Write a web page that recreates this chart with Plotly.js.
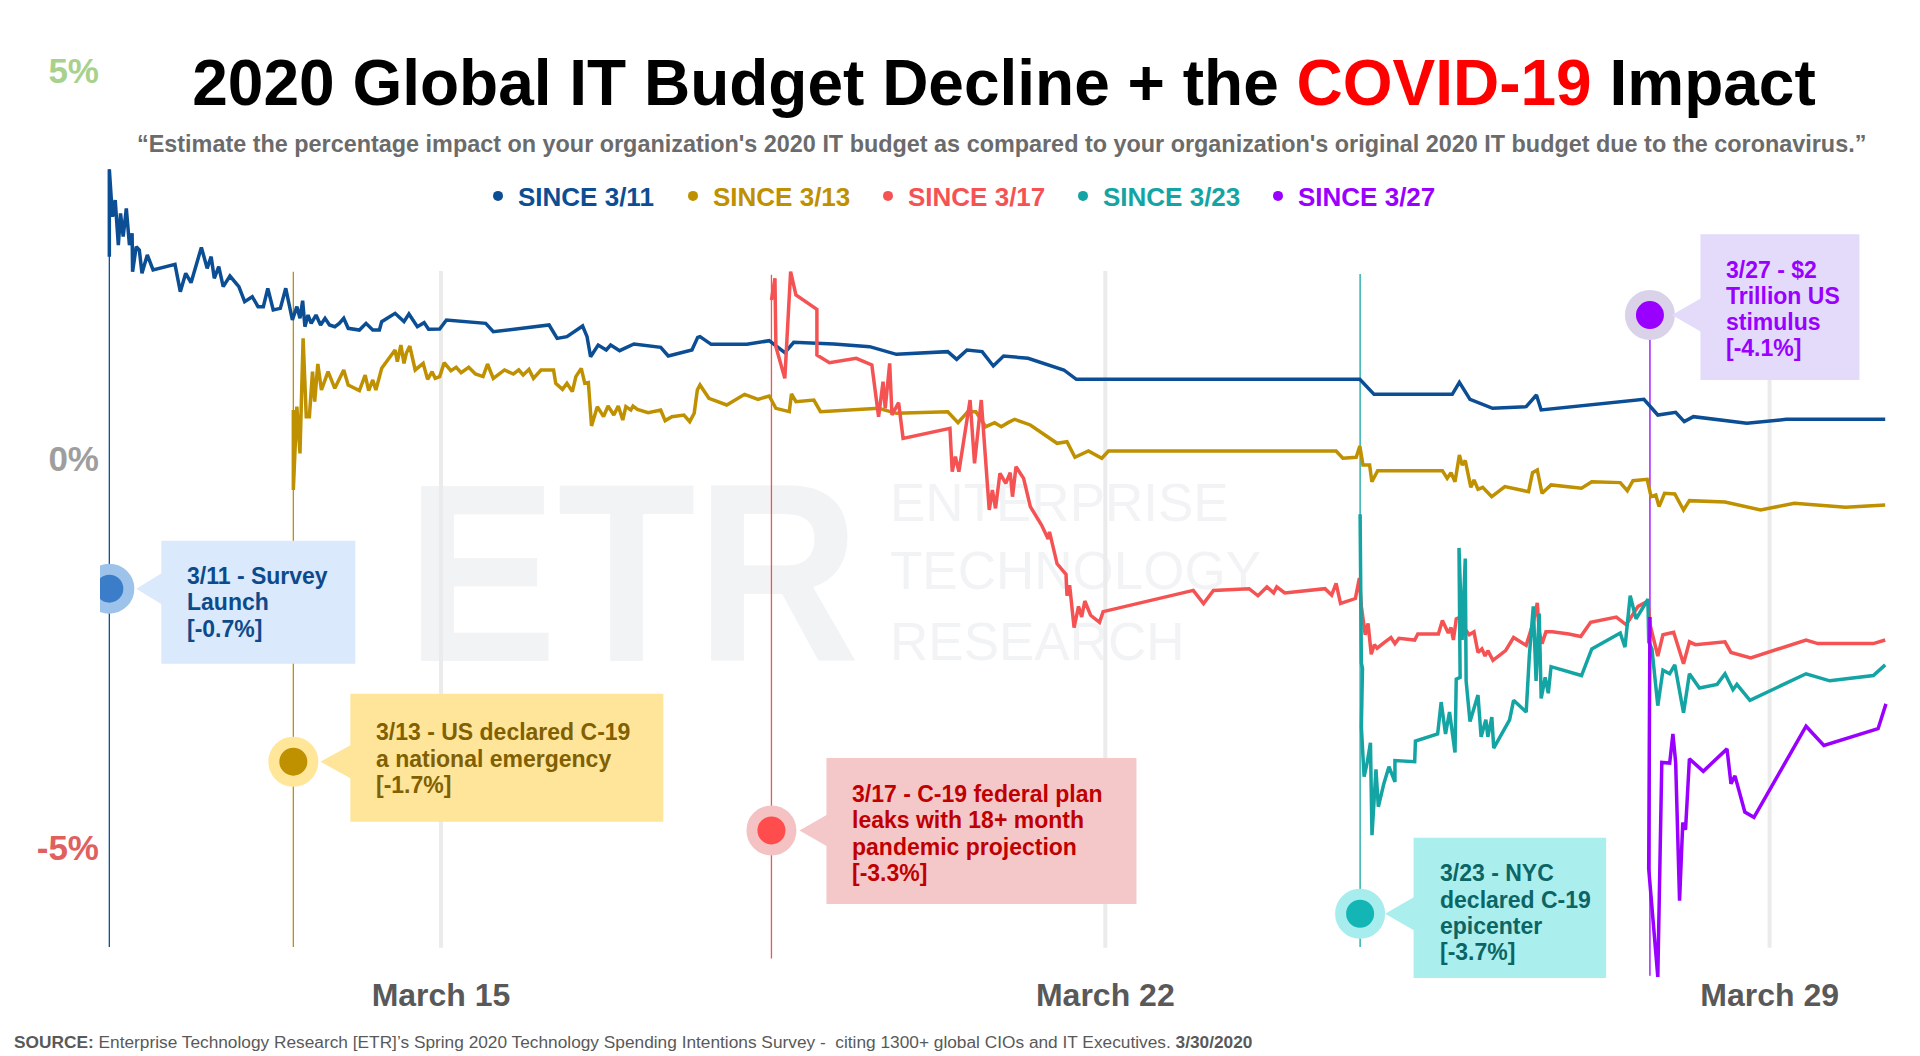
<!DOCTYPE html>
<html><head><meta charset="utf-8">
<script src="https://cdn.plot.ly/plotly-3.0.1.min.js"></script>
<style>
html,body{margin:0;padding:0;background:#fff;}
#wrap{position:relative;width:1920px;height:1056px;overflow:hidden;background:#fff;}
#wm{position:absolute;left:0;top:0;width:1920px;height:1056px;z-index:0;font-family:'Liberation Sans',Arial,sans-serif;color:#f2f3f5;}
#wm div{position:absolute;white-space:nowrap;line-height:1;}
#chart{position:absolute;left:0;top:0;width:1920px;height:1056px;z-index:1;}
</style></head><body>
<div id="wrap">
 <div id="wm">
  <div style="left:406px;top:445px;font-size:255px;font-weight:bold;transform:scaleX(0.89);transform-origin:left top;">ETR</div>
  <div style="left:890px;top:476px;font-size:53px;">ENTERPRISE</div>
  <div style="left:890px;top:544px;font-size:53px;">TECHNOLOGY</div>
  <div style="left:890px;top:615px;font-size:53px;">RESEARCH</div>
 </div>
 <div id="chart"></div>
</div>
<script>
// ---------------- DATA ----------------
const seriesNames = ['SINCE 3/11','SINCE 3/13','SINCE 3/17','SINCE 3/23','SINCE 3/27'];

// x = day of March 2020 (fractional), y = budget impact in %
const blueX = [11.505,11.505,11.538,11.567,11.600,11.623,11.651,11.684,11.717,11.745,11.750,11.788,11.821,11.849,11.905,11.966,12.197,12.253,12.310,12.366,12.475,12.536,12.578,12.611,12.658,12.705,12.776,12.870,12.931,13.011,13.072,13.128,13.175,13.232,13.307,13.364,13.434,13.481,13.514,13.542,13.566,13.599,13.632,13.683,13.731,13.778,13.825,13.881,13.928,13.975,14.022,14.140,14.210,14.281,14.351,14.375,14.516,14.610,14.662,14.751,14.822,14.869,14.986,15.057,15.471,15.551,16.139,16.224,16.327,16.492,16.539,16.576,16.656,16.741,16.788,16.882,17.033,17.315,17.395,17.644,17.705,17.729,17.847,18.223,18.458,18.623,18.717,19.140,19.517,19.799,20.340,20.434,20.542,20.702,20.820,20.928,21.186,21.563,21.695,24.682,24.832,25.656,25.731,25.843,26.081,26.435,26.543,26.593,27.676,27.822,28.010,28.101,28.197,28.760,29.176,30.218];
const blueY = [2.604,3.728,3.119,3.333,2.754,3.162,2.862,3.226,2.754,2.904,2.411,2.733,2.690,2.390,2.626,2.433,2.506,2.154,2.390,2.270,2.724,2.454,2.604,2.325,2.475,2.218,2.355,2.218,2.025,2.089,1.961,1.961,2.197,1.918,1.939,2.197,1.789,1.961,1.811,2.038,1.703,1.853,1.746,1.853,1.725,1.811,1.725,1.703,1.746,1.811,1.682,1.660,1.746,1.660,1.660,1.768,1.875,1.768,1.866,1.703,1.755,1.669,1.673,1.789,1.746,1.639,1.725,1.553,1.575,1.712,1.575,1.317,1.467,1.403,1.467,1.394,1.480,1.437,1.326,1.403,1.566,1.575,1.476,1.476,1.523,1.369,1.502,1.480,1.446,1.347,1.382,1.283,1.403,1.382,1.197,1.326,1.296,1.146,1.025,1.025,0.832,0.832,0.987,0.768,0.652,0.674,0.824,0.631,0.768,0.566,0.601,0.481,0.545,0.459,0.511,0.511];

const goldX = [13.444,13.444,13.481,13.514,13.547,13.580,13.613,13.646,13.669,13.702,13.740,13.810,13.881,13.975,14.022,14.140,14.201,14.238,14.281,14.314,14.375,14.516,14.540,14.577,14.610,14.634,14.671,14.728,14.812,14.859,14.906,14.939,14.986,15.033,15.104,15.160,15.212,15.292,15.363,15.443,15.490,15.551,15.669,15.763,15.819,15.866,15.927,15.974,16.054,16.186,16.209,16.280,16.327,16.384,16.421,16.478,16.515,16.553,16.586,16.647,16.713,16.760,16.821,16.868,16.915,16.948,17.000,17.023,17.070,17.183,17.315,17.362,17.433,17.560,17.621,17.668,17.701,17.729,17.823,18.011,18.199,18.341,18.458,18.529,18.670,18.693,18.740,18.929,18.999,19.611,19.799,20.340,20.448,20.551,20.636,20.740,20.834,20.904,20.975,21.045,21.210,21.492,21.596,21.680,21.822,21.963,22.033,24.432,24.503,24.644,24.682,24.715,24.785,24.809,24.870,25.105,25.552,25.602,25.643,25.685,25.731,25.760,25.793,25.852,25.885,25.927,25.977,26.072,26.210,26.460,26.502,26.552,26.602,26.697,27.018,27.126,27.426,27.501,27.560,27.710,27.751,27.801,27.835,27.893,28.001,28.093,28.155,28.530,28.905,29.260,29.801,30.218];
const goldY = [0.631,-0.399,0.674,0.073,1.553,0.545,0.545,1.124,0.738,1.223,0.888,1.124,0.910,1.146,0.953,0.880,1.081,0.880,1.017,0.888,1.167,1.403,1.253,1.467,1.231,1.360,1.454,1.146,1.231,1.025,1.124,1.038,1.060,1.240,1.137,1.180,1.111,1.180,1.094,1.060,1.223,1.038,1.146,1.094,1.146,1.081,1.154,1.038,1.146,1.146,0.974,0.897,0.974,0.867,1.060,1.167,0.974,0.983,0.425,0.674,0.545,0.682,0.566,0.682,0.502,0.674,0.631,0.682,0.639,0.596,0.631,0.494,0.545,0.566,0.481,0.588,0.888,0.953,0.781,0.695,0.832,0.768,0.811,0.652,0.609,0.837,0.738,0.759,0.609,0.652,0.588,0.609,0.468,0.609,0.609,0.416,0.468,0.416,0.468,0.511,0.438,0.202,0.223,0.022,0.103,0.009,0.103,0.103,0.009,0.022,0.167,-0.077,-0.077,-0.292,-0.150,-0.150,-0.150,-0.249,-0.176,-0.292,0.052,-0.077,-0.021,-0.364,-0.270,-0.390,-0.364,-0.485,-0.356,-0.420,-0.176,-0.141,-0.442,-0.334,-0.377,-0.292,-0.304,-0.407,-0.279,-0.262,-0.485,-0.463,-0.613,-0.442,-0.450,-0.656,-0.536,-0.553,-0.656,-0.570,-0.622,-0.592];

const redX = [18.482,18.505,18.519,18.529,18.623,18.684,18.740,18.961,18.961,19.093,19.375,19.540,19.611,19.658,19.681,19.728,19.752,19.822,19.869,20.363,20.387,20.420,20.457,20.575,20.622,20.693,20.777,20.810,20.843,20.890,20.951,20.998,21.022,21.059,21.139,21.210,21.328,21.398,21.412,21.492,21.586,21.596,21.624,21.671,21.718,21.751,21.784,21.845,21.939,21.977,22.927,23.035,23.139,23.515,23.609,23.703,23.774,23.807,23.891,24.315,24.385,24.432,24.479,24.635,24.677,24.698,24.739,24.769,24.802,24.835,24.864,24.948,25.010,25.052,25.094,25.260,25.293,25.510,25.552,25.614,25.643,25.668,25.698,25.739,25.781,25.835,25.885,25.927,25.968,26.002,26.031,26.085,26.218,26.302,26.435,26.510,26.552,26.572,26.602,26.643,26.710,26.885,27.010,27.114,27.385,27.489,27.614,27.718,27.739,27.822,27.876,27.989,28.051,28.093,28.155,28.218,28.530,28.593,28.801,29.384,29.509,30.093,30.218];
const redY = [2.046,2.261,2.325,1.446,1.038,2.411,2.111,1.926,1.339,1.240,1.296,1.210,0.545,0.995,0.652,1.231,0.566,0.725,0.266,0.395,-0.163,0.030,-0.163,0.759,-0.056,0.759,-0.656,-0.399,-0.635,-0.184,-0.313,-0.176,-0.485,-0.099,-0.249,-0.613,-0.849,-1.030,-0.938,-1.349,-1.486,-1.760,-1.623,-2.171,-1.897,-2.034,-1.828,-2.011,-2.102,-1.965,-1.691,-1.860,-1.691,-1.669,-1.760,-1.646,-1.723,-1.646,-1.723,-1.669,-1.751,-1.600,-1.860,-1.796,-1.532,-1.897,-2.262,-2.116,-2.513,-2.390,-2.435,-2.353,-2.298,-2.376,-2.308,-2.330,-2.253,-2.253,-2.079,-2.239,-2.171,-2.330,-2.057,-2.034,-2.171,-2.262,-2.225,-2.490,-2.444,-2.536,-2.467,-2.591,-2.467,-2.298,-2.399,-2.102,-1.851,-2.225,-2.376,-2.225,-2.225,-2.253,-2.285,-2.102,-2.034,-2.134,-1.897,-1.828,-2.125,-2.536,-2.262,-2.230,-2.490,-2.636,-2.353,-2.390,-2.353,-2.490,-2.559,-2.330,-2.376,-2.376,-2.330];

const tealX = [24.685,24.698,24.710,24.698,24.727,24.760,24.794,24.810,24.852,24.877,24.935,24.989,25.052,25.052,25.260,25.268,25.502,25.539,25.585,25.627,25.685,25.698,25.739,25.727,25.760,25.793,25.802,25.843,25.927,25.960,26.010,26.031,26.073,26.093,26.260,26.302,26.435,26.468,26.510,26.539,26.572,26.593,26.635,26.668,26.697,27.018,27.126,27.426,27.476,27.531,27.593,27.718,27.726,27.760,27.822,27.876,27.947,28.001,28.093,28.155,28.260,28.447,28.530,28.614,28.655,28.793,29.384,29.634,30.093,30.218];
const tealY = [-0.710,-2.627,-2.696,-3.449,-4.088,-3.905,-3.654,-4.841,-3.996,-4.476,-4.179,-3.960,-4.156,-3.882,-3.896,-3.631,-3.540,-3.129,-3.540,-3.257,-3.777,-2.832,-2.810,-1.144,-2.330,-1.281,-2.855,-3.380,-3.038,-3.576,-3.357,-3.576,-3.321,-3.722,-3.357,-3.106,-3.257,-2.536,-1.897,-2.855,-1.988,-3.083,-2.810,-3.015,-2.673,-2.787,-2.444,-2.239,-2.422,-1.760,-2.057,-1.805,-2.353,-2.444,-3.175,-2.718,-2.764,-2.650,-3.266,-2.764,-2.947,-2.901,-2.764,-2.969,-2.901,-3.106,-2.764,-2.855,-2.787,-2.650];

const purpleX = [27.739,27.726,27.822,27.864,27.947,27.981,28.010,28.051,28.085,28.114,28.155,28.301,28.551,28.593,28.635,28.739,28.835,29.384,29.572,30.143,30.226];
const purpleY = [-2.034,-5.274,-6.666,-3.905,-3.914,-3.540,-3.905,-5.685,-4.681,-4.772,-3.859,-4.019,-3.731,-4.179,-4.078,-4.544,-4.612,-3.439,-3.686,-3.471,-3.152];

const xTickVals = [15, 22, 29];
const xTickLabels = ['March 15', 'March 22', 'March 29'];
const yTickVals = [5, 0, -5];
const yTickLabels = ['5%', '0%', '-5%'];

const eventDays = [11.505, 13.444, 18.482, 24.685, 27.739];
const eventTexts = [
  ['3/11 - Survey', 'Launch', '[-0.7%]'],
  ['3/13 - US declared C-19', 'a national emergency', '[-1.7%]'],
  ['3/17 - C-19 federal plan', 'leaks with 18+ month', 'pandemic projection', '[-3.3%]'],
  ['3/23 - NYC', 'declared C-19', 'epicenter', '[-3.7%]'],
  ['3/27 - $2', 'Trillion US', 'stimulus', '[-4.1%]']
];

const titleText = '2020 Global IT Budget Decline + the <span style="color:#ff0000">COVID-19</span> Impact';
const subtitleText = '\u201cEstimate the percentage impact on your organization\'s 2020 IT budget as compared to your organization\'s original 2020 IT budget due to the coronavirus.\u201d';
const sourceText = '<b>SOURCE:</b> Enterprise Technology Research [ETR]\u2019s Spring 2020 Technology Spending Intentions Survey -  citing 1300+ global CIOs and IT Executives. <b>3/30/2020</b>';

// ---------------- STYLE / LAYOUT ----------------
const FONT = 'Liberation Sans, Arial, Helvetica, sans-serif';
const W = 1920, H = 1056;
const M = {l: 100, r: 20, t: 40, b: 78, autoexpand: false};
const PX = p => (p - M.l) / (W - M.l - M.r);
const PY = p => (H - M.b - p) / (H - M.t - M.b);

const lineColors = ['#0c4e94', '#bf9000', '#f55353', '#14a4a4', '#9900ff'];
const dotColors  = ['#3b7dc9', '#bf9000', '#ff4d4d', '#13b5b5', '#9900ff'];
const haloColors = ['#9dc3ea', '#ffe699', '#f4c2c2', '#a7eded', '#d9d2e9'];
const boxColors  = ['#dae9fb', '#fee59a', '#f4c8c9', '#abeeee', '#e3dbf9'];
const textColors = ['#0d4a8c', '#806000', '#c00000', '#0b6565', '#9900ff'];
const yTickColors = ['#a9d18e', '#9e9e9e', '#e06060'];

// event marker levels (y) and vertical guide extents, in axis units
const eventLevels  = [-1.669, -3.896, -4.781, -5.853, 1.853];
const eventTops    = [3.728, 2.41, 2.37, 2.38, 1.853];
const eventBottoms = [-6.28, -6.28, -6.43, -6.28, -6.65];
const gridTop = 2.42, gridBottom = -6.29;

// callout box geometry in px relative to the event marker
const callouts = [
  {l: 52,   r: 246,   up: 48,   down: 75,   tip: 27, half: 16, lines: [-12.7, 13.8, 40.3]},
  {l: 57,   r: 370,   up: 68,   down: 60,   tip: 27, half: 17, lines: [-29.7, -3.0, 23.6]},
  {l: 55,   r: 365,   up: 72.5, down: 73.5, tip: 28, half: 16, lines: [-36.5, -10.2, 16.2, 42.5]},
  {l: 53.5, r: 246,   up: 76,   down: 69.5, tip: 25, half: 17, lines: [-40.4, -14.2, 11.9, 38.2]},
  {l: 50.5, r: 209.5, up: 80.7, down: 65,   tip: 22, half: 17, lines: [-45, -18.8, 7.4, 33.3]}
];

const seriesX = [blueX, goldX, redX, tealX, purpleX];
const seriesY = [blueY, goldY, redY, tealY, purpleY];

const traces = [];
seriesX.forEach((xs, i) => {
  traces.push({
    type: 'scatter', mode: 'lines', x: xs, y: seriesY[i],
    line: {color: lineColors[i], width: 3.5},
    showlegend: false, hoverinfo: 'skip', legendgroup: 'g' + i
  });
});
// legend entries (dot + coloured label)
seriesNames.forEach((n, i) => {
  traces.push({
    type: 'scatter', mode: 'markers', x: [null], y: [null],
    name: '<span style="color:' + lineColors[i] + '"><b>' + n + '</b></span>',
    marker: {color: lineColors[i], size: 10},
    legendgroup: 'g' + i, showlegend: true, hoverinfo: 'skip'
  });
});
// event markers
traces.push({
  type: 'scatter', mode: 'markers', x: eventDays, y: eventLevels,
  marker: {size: 39, color: dotColors, line: {width: 11, color: haloColors}},
  showlegend: false, hoverinfo: 'skip'
});

const shapes = [];
xTickVals.forEach(v => shapes.push({
  type: 'line', xref: 'x', yref: 'y', x0: v, x1: v, y0: gridTop, y1: gridBottom,
  line: {color: '#ebebeb', width: 4}, layer: 'below'
}));
eventDays.forEach((d, i) => shapes.push({
  type: 'line', xref: 'x', yref: 'y', x0: d, x1: d, y0: eventTops[i], y1: eventBottoms[i],
  line: {color: lineColors[i], width: 1.3}, layer: 'below'
}));
const annotations = [];
callouts.forEach((c, i) => {
  const base = {xref: 'x', yref: 'y', xsizemode: 'pixel', ysizemode: 'pixel',
                xanchor: eventDays[i], yanchor: eventLevels[i], layer: 'above',
                fillcolor: boxColors[i], line: {width: 0}};
  shapes.push(Object.assign({type: 'rect', x0: c.l, x1: c.r, y0: c.up, y1: -c.down}, base));
  shapes.push(Object.assign({type: 'path',
    path: 'M ' + c.tip + ',0 L ' + (c.l + 1) + ',' + c.half + ' L ' + (c.l + 1) + ',' + (-c.half) + ' Z'}, base));
  eventTexts[i].forEach((t, k) => annotations.push({
    xref: 'x', yref: 'y', x: eventDays[i], y: eventLevels[i],
    xanchor: 'left', yanchor: 'middle', xshift: c.l + 24, yshift: -c.lines[k],
    text: '<b>' + t + '</b>', showarrow: false,
    font: {family: FONT, size: 23, color: textColors[i]}
  }));
});
annotations.push({
  xref: 'paper', yref: 'paper', x: PX(1001), y: PY(144), xanchor: 'center', yanchor: 'middle',
  text: '<b>' + subtitleText + '</b>', showarrow: false,
  font: {family: FONT, size: 23.4, color: '#6b6b6b'}
});
annotations.push({
  xref: 'paper', yref: 'paper', x: PX(12), y: PY(1042), xanchor: 'left', yanchor: 'middle',
  text: sourceText, showarrow: false,
  font: {family: FONT, size: 17.3, color: '#595959'}
});

const layout = {
  width: W, height: H, margin: M,
  paper_bgcolor: 'rgba(0,0,0,0)', plot_bgcolor: 'rgba(0,0,0,0)',
  font: {family: FONT},
  title: {text: '<b>' + titleText + '</b>', x: 1004 / W, xanchor: 'center', xref: 'container',
          y: 1 - 83 / H, yanchor: 'middle', yref: 'container',
          font: {family: FONT, size: 64, color: '#000000'}},
  xaxis: {range: [11.4067, 30.374], tickmode: 'array', tickvals: xTickVals,
          ticktext: xTickLabels.map(t => '<b>' + t + '</b>'),
          showgrid: false, zeroline: false, showline: false, ticks: '',
          ticklabelstandoff: -5,
          tickfont: {family: FONT, size: 32, color: '#595959'}, fixedrange: true},
  yaxis: {range: [-6.680, 5.393], tickmode: 'array', tickvals: yTickVals,
          ticktext: yTickLabels.map((t, i) => '<span style="color:' + yTickColors[i] + '"><b>' + t + '</b></span>'),
          showgrid: false, zeroline: false, showline: false, ticks: '',
          tickfont: {family: FONT, size: 35, color: '#9e9e9e'}, fixedrange: true},
  showlegend: true,
  legend: {orientation: 'h', xref: 'container', yref: 'container',
           x: 478 / W, xanchor: 'left', y: 1 - 196 / H, yanchor: 'middle',
           font: {family: FONT, size: 26}, entrywidth: 150, entrywidthmode: 'pixels',
           itemwidth: 30, bgcolor: 'rgba(0,0,0,0)', traceorder: 'normal'},
  shapes: shapes, annotations: annotations
};

Plotly.newPlot('chart', traces, layout, {staticPlot: true, displayModeBar: false});
</script>
</body></html>
